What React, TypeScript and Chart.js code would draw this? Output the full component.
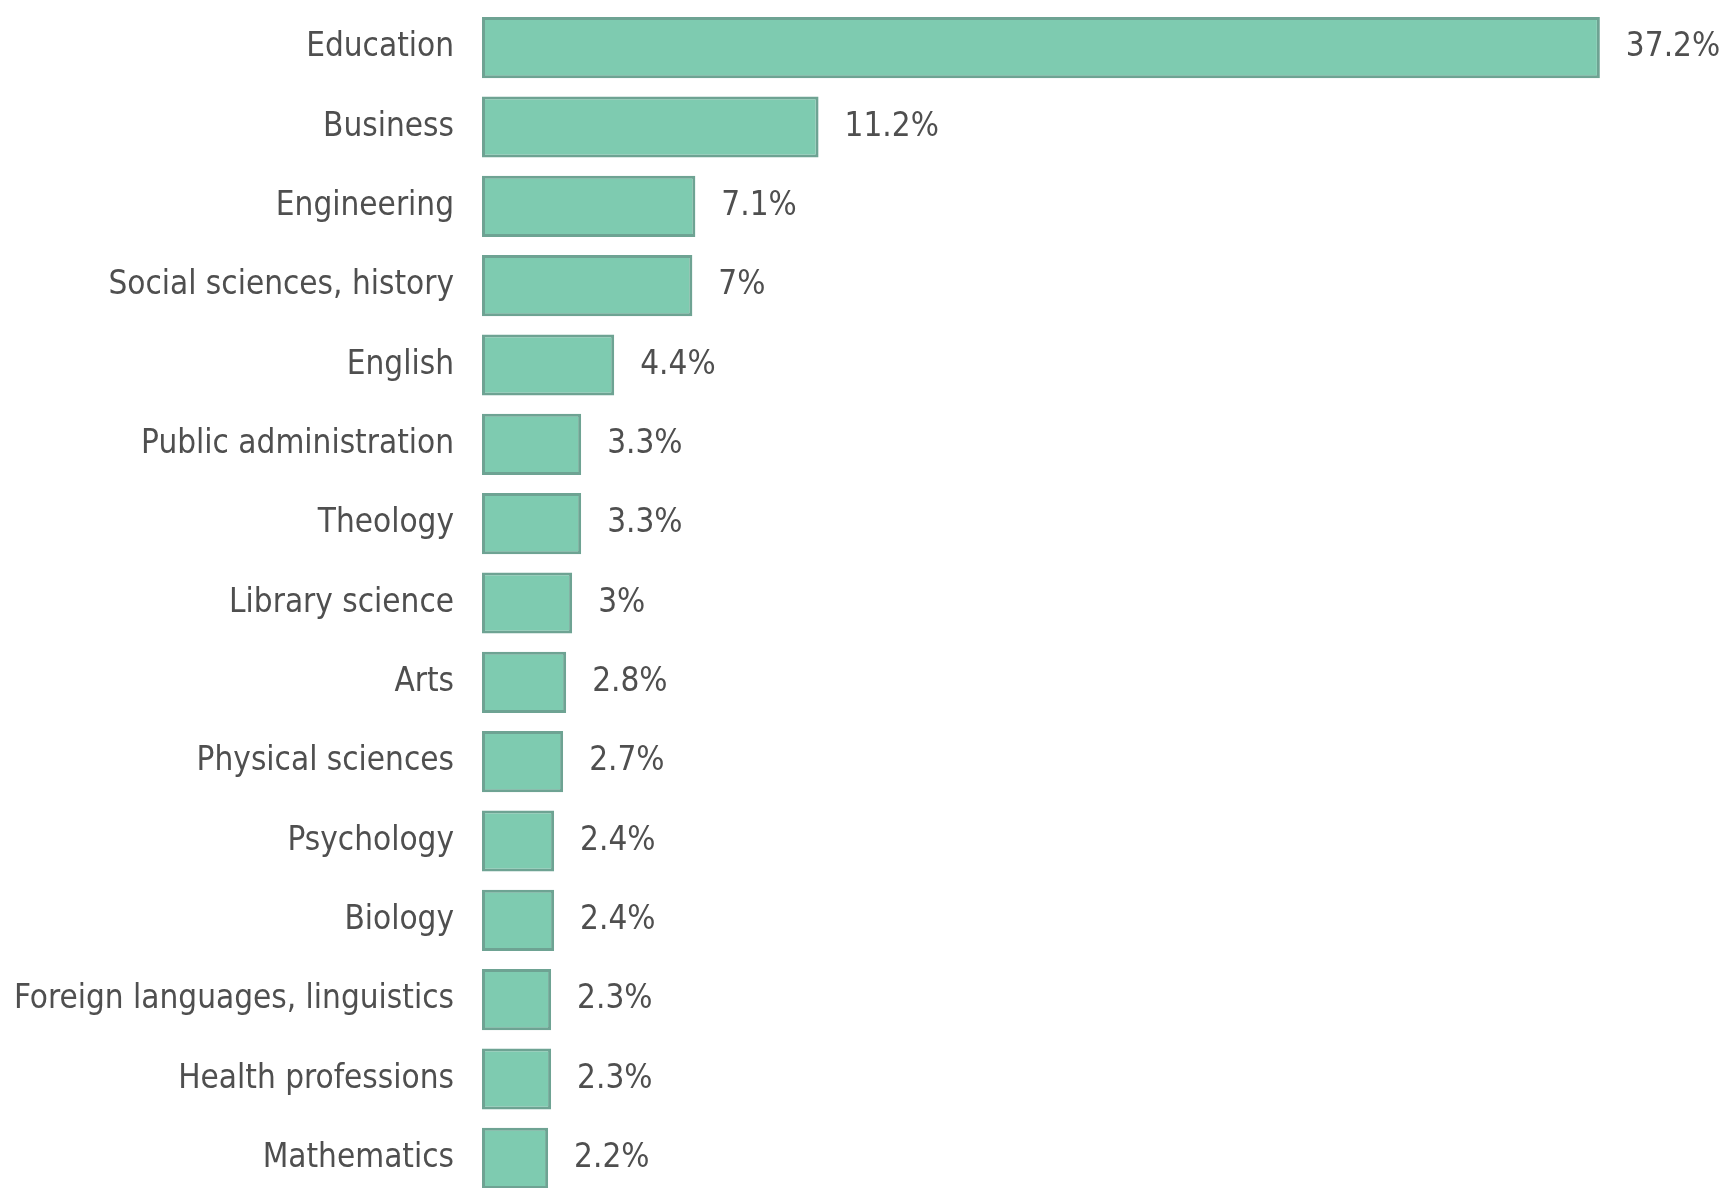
import React, { useEffect, useRef } from "react";
import { Chart, registerables } from "chart.js";

Chart.register(...registerables);

const categories: string[] = [
  "Education",
  "Business",
  "Engineering",
  "Social sciences, history",
  "English",
  "Public administration",
  "Theology",
  "Library science",
  "Arts",
  "Physical sciences",
  "Psychology",
  "Biology",
  "Foreign languages, linguistics",
  "Health professions",
  "Mathematics",
];

const shares: number[] = [37.2, 11.2, 7.1, 7, 4.4, 3.3, 3.3, 3, 2.8, 2.7, 2.4, 2.4, 2.3, 2.3, 2.2];

const FONT_FAMILY = '"Liberation Sans Narrow", "DejaVu Sans Condensed", "Noto Sans", sans-serif';
const FONT_SIZE = 33;
const TEXT_COLOR = "#4f4f4f";

const valueLabels = {
  id: "valueLabels",
  afterDatasetsDraw(chart: any) {
    const ctx = chart.ctx;
    const meta = chart.getDatasetMeta(0);
    ctx.save();
    ctx.font = `${FONT_SIZE}px ${FONT_FAMILY}`;
    ctx.fillStyle = TEXT_COLOR;
    ctx.textAlign = "left";
    ctx.textBaseline = "middle";
    meta.data.forEach((bar: any, i: number) => {
      const v = chart.data.datasets[0].data[i];
      ctx.fillText(`${v}%`, bar.x + 26, bar.y);
    });
    ctx.restore();
  },
};

export default function App() {
  const ref = useRef<HTMLCanvasElement | null>(null);

  useEffect(() => {
    document.body.style.margin = "0";
    document.body.style.overflow = "hidden";
    const canvas = ref.current;
    if (!canvas) return;
    const chart = new Chart(canvas, {
      type: "bar",
      data: {
        labels: categories,
        datasets: [
          {
            data: shares,
            backgroundColor: "rgb(126, 203, 176)",
            borderColor: "rgb(110, 163, 147)",
            borderWidth: 3,
            borderSkipped: false,
            barPercentage: 0.77,
            categoryPercentage: 1,
          },
        ],
      },
      options: {
        indexAxis: "y",
        responsive: false,
        animation: false,
        devicePixelRatio: 1,
        layout: { padding: { top: 8, right: 42, bottom: 0, left: 0 } },
        plugins: {
          legend: { display: false },
          tooltip: { enabled: false },
          title: { display: false },
        },
        scales: {
          x: {
            display: false,
            min: 0,
            max: 40,
          },
          y: {
            grid: { display: false, drawTicks: false },
            border: { display: false },
            ticks: {
              padding: 28,
              color: TEXT_COLOR,
              font: { family: FONT_FAMILY, size: FONT_SIZE },
            },
            afterFit: (scale: any) => {
              scale.width = 482;
              scale.paddingTop = 0;
              scale.paddingBottom = 0;
            },
          },
        },
      },
      plugins: [valueLabels],
    });
    return () => chart.destroy();
  }, []);

  return (
    <div style={{ position: "fixed", top: 0, left: 0, width: 1726, height: 1198, background: "#fff" }}>
      <canvas ref={ref} width={1726} height={1198} style={{ display: "block" }} />
    </div>
  );
}
